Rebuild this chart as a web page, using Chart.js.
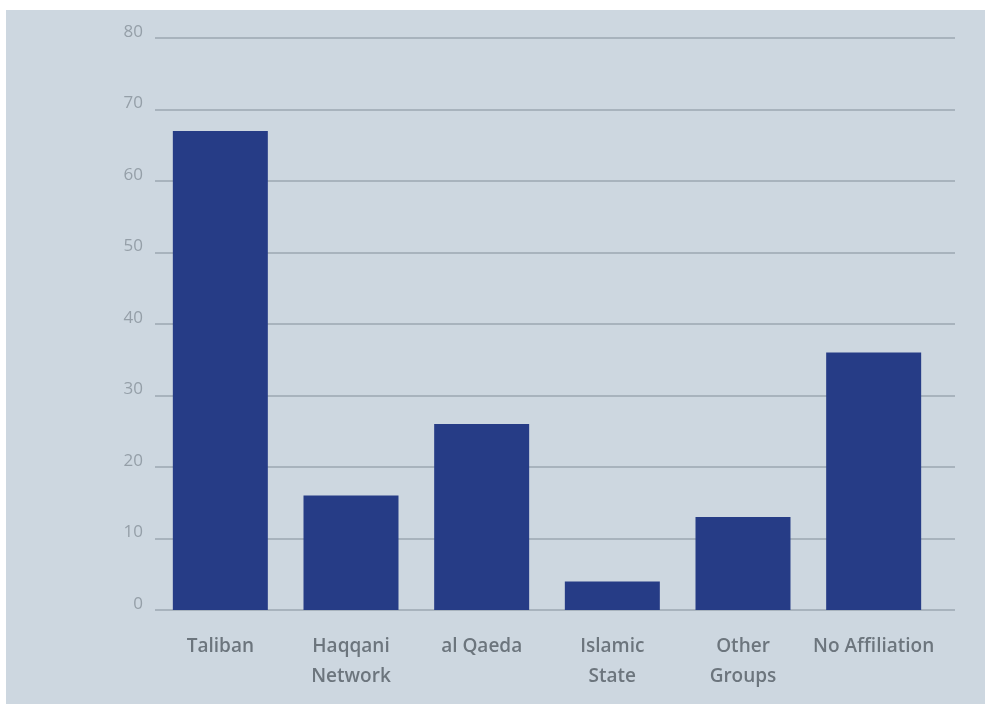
<!DOCTYPE html>
<html>
<head>
<meta charset="utf-8">
<script src="https://cdn.jsdelivr.net/npm/chart.js@4"></script>
<style>
  body { margin: 0; background: #ffffff; }
  #wrap { position: absolute; left: 6px; top: 10px; width: 979px; height: 694px; background: #cdd7e0; }
</style>
</head>
<body>
<div id="wrap"><canvas id="chart" width="979" height="694"></canvas></div>
<script>
// categorias y valores
const categories = [
  'Taliban',
  ['Haqqani', 'Network'],
  'al Qaeda',
  ['Islamic', 'State'],
  ['Other', 'Groups'],
  'No Affiliation'
];
const counts = [67, 16, 26, 4, 13, 36];
const yTicks = [0, 10, 20, 30, 40, 50, 60, 70, 80];

// lineas horizontales que pasan un poco mas alla del area del grafico
const gridPlugin = {
  id: 'longGrid',
  beforeDatasetsDraw(chart) {
    const y = chart.scales.y;
    const area = chart.chartArea;
    const c = chart.ctx;
    c.save();
    c.strokeStyle = '#a8b3bd';
    c.lineWidth = 2;
    yTicks.forEach(v => {
      const py = Math.round(y.getPixelForValue(v));
      c.beginPath();
      c.moveTo(area.left, py);
      c.lineTo(area.right + 16, py);
      c.stroke();
    });
    c.restore();
  }
};

new Chart(document.getElementById('chart').getContext('2d'), {
  type: 'bar',
  data: {
    labels: categories,
    datasets: [{
      data: counts,
      backgroundColor: '#263c86',
      borderWidth: 0,
      categoryPercentage: 1,
      barPercentage: 0.727
    }]
  },
  plugins: [gridPlugin],
  options: {
    responsive: false,
    animation: false,
    layout: { padding: { top: 28, right: 46, left: 0, bottom: 0 } },
    plugins: { legend: { display: false }, tooltip: { enabled: false } },
    scales: {
      x: {
        grid: { display: false, drawTicks: false },
        border: { display: false },
        ticks: {
          color: '#6c757d',
          padding: 22,
          maxRotation: 0,
          autoSkip: false,
          font: { family: 'Open Sans', size: 19, weight: '600', lineHeight: 1.55 }
        },
        afterFit(scale) { scale.height = 94; }
      },
      y: {
        min: 0,
        max: 80,
        grid: { display: false, drawTicks: false },
        border: { display: false },
        ticks: {
          stepSize: 10,
          color: '#959fa8',
          padding: 12,
          labelOffset: -6,
          font: { family: 'Open Sans', size: 17 }
        },
        afterFit(scale) { scale.width = 149; }
      }
    }
  }
});
</script>
</body>
</html>
